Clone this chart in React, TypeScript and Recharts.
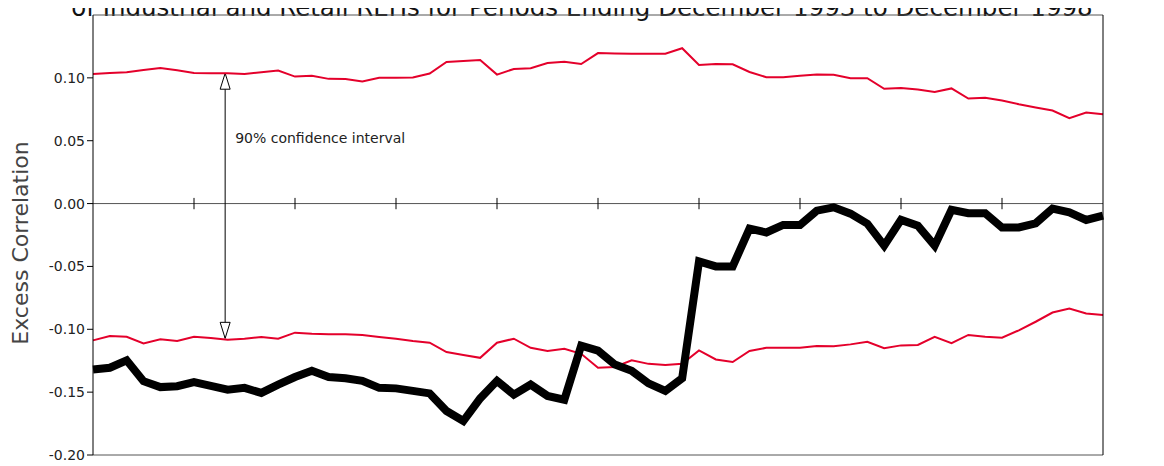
import React from 'react';
import { LineChart, Line, XAxis, YAxis, ReferenceLine } from 'recharts';

const upper = [0.1031,0.1039,0.1045,0.1063,0.1079,0.106,0.1039,0.1037,0.1037,0.1031,0.1045,0.1058,0.101,0.1016,0.0992,0.099,0.0971,0.1,0.1,0.1003,0.1034,0.1126,0.1134,0.1142,0.1026,0.1071,0.1076,0.1118,0.1129,0.111,0.1197,0.1194,0.1192,0.1192,0.1192,0.1236,0.1102,0.111,0.1108,0.1047,0.1005,0.1005,0.1016,0.1026,0.1024,0.0997,0.0997,0.0913,0.0919,0.0908,0.0887,0.0916,0.0835,0.0842,0.082,0.079,0.0765,0.074,0.068,0.0725,0.071];
const lower = [-0.1088,-0.1053,-0.1059,-0.1112,-0.108,-0.1093,-0.1059,-0.1069,-0.1083,-0.1075,-0.1061,-0.1075,-0.1027,-0.1035,-0.104,-0.104,-0.1045,-0.1061,-0.1075,-0.1093,-0.1107,-0.1181,-0.1205,-0.1227,-0.1107,-0.1075,-0.1147,-0.1173,-0.1155,-0.1195,-0.1306,-0.13,-0.1247,-0.1275,-0.1285,-0.1275,-0.1168,-0.124,-0.126,-0.1173,-0.1147,-0.1147,-0.1147,-0.1133,-0.1135,-0.112,-0.11,-0.115,-0.1128,-0.1125,-0.106,-0.111,-0.1045,-0.106,-0.1067,-0.1008,-0.094,-0.0867,-0.0835,-0.0875,-0.0886];
const excess = [-0.132,-0.1306,-0.1247,-0.1413,-0.146,-0.1453,-0.142,-0.145,-0.148,-0.1466,-0.1506,-0.144,-0.138,-0.133,-0.138,-0.139,-0.141,-0.1466,-0.147,-0.149,-0.151,-0.165,-0.173,-0.155,-0.141,-0.152,-0.144,-0.153,-0.156,-0.113,-0.117,-0.128,-0.133,-0.143,-0.149,-0.139,-0.046,-0.05,-0.05,-0.02,-0.023,-0.017,-0.017,-0.0056,-0.003,-0.008,-0.016,-0.0335,-0.013,-0.0176,-0.0335,-0.005,-0.0077,-0.0077,-0.019,-0.019,-0.0157,-0.004,-0.007,-0.013,-0.0096];
const yTicks = [0.15, 0.1, 0.05, 0, -0.05, -0.1, -0.15, -0.2];
const xTicks = [6, 12, 18, 24, 30, 36, 42, 48, 54];
const title = 'of Industrial and Retail REITs for Periods Ending December 1993 to December 1998';
const annotation = '90% confidence interval';
const yLabel = 'Excess Correlation';

const data = upper.map((u, i) => ({ i, upper: u, lower: lower[i], excess: excess[i] }));
const fmt = (v: number) => v.toFixed(2);
const font = 'DejaVu Sans, Verdana, sans-serif';

const ArrowShape = (p: any) => {
  const { x1, y1, x2, y2 } = p;
  const x = x1;
  const top = Math.min(y1, y2), bot = Math.max(y1, y2);
  return (
    <g stroke="#000" strokeWidth={1} fill="#fff">
      <line x1={x} y1={top} x2={x} y2={bot} />
      <polygon points={`${x},${top} ${x - 5},${top + 16} ${x + 5},${top + 16}`} />
      <polygon points={`${x},${bot} ${x - 5},${bot - 16} ${x + 5},${bot - 16}`} />
      <text x={x + 10} y={135} fill="#222" stroke="none" fontSize={14} fontFamily={font}>{annotation}</text>
    </g>
  );
};

export default function App() {
  return (
    <div style={{ position: 'relative', width: 1148, height: 458, fontFamily: font }}>
      <div style={{ position: 'absolute', top: -12, left: 0, width: 1148, textAlign: 'center', fontSize: 24.5, lineHeight: '24px', color: '#111', whiteSpace: 'nowrap' }}>{title}</div>
      <div style={{ position: 'absolute', left: 0, top: 0 }}>
        <LineChart width={1148} height={458} data={data} margin={{ top: 7, right: 0, bottom: 11, left: 0 }}>
          <XAxis dataKey="i" type="number" domain={[0, 60]} hide />
          <YAxis yAxisId="l" orientation="left" width={85} domain={[-0.2, 0.15]} ticks={yTicks} tickFormatter={fmt}
            stroke="#000" tick={{ fill: '#222', fontSize: 14, fontFamily: font }} tickSize={6} />
          <YAxis yAxisId="r" orientation="right" width={53} domain={[-0.2, 0.15]} ticks={yTicks} tickFormatter={fmt}
            stroke="#000" tick={{ fill: '#222', fontSize: 14, fontFamily: font }} tickSize={6} />
          <ReferenceLine yAxisId="l" y={0.15} stroke="#555" />
          <ReferenceLine yAxisId="l" y={-0.2} stroke="#555" />
          <ReferenceLine yAxisId="l" y={0} stroke="#555" />
          {xTicks.map(t => (
            <ReferenceLine key={t} yAxisId="l" segment={[{ x: t, y: 0.0045 }, { x: t, y: -0.0045 }]} stroke="#000" />
          ))}
          <ReferenceLine yAxisId="l" segment={[{ x: 7.85, y: 0.1037 }, { x: 7.85, y: -0.1072 }]} shape={ArrowShape} />
          <Line yAxisId="l" dataKey="upper" stroke="#e4002b" strokeWidth={2} dot={false} isAnimationActive={false} />
          <Line yAxisId="l" dataKey="lower" stroke="#e4002b" strokeWidth={2} dot={false} isAnimationActive={false} />
          <Line yAxisId="l" dataKey="excess" stroke="#000" strokeWidth={8} dot={false} isAnimationActive={false} strokeLinejoin="miter" />
        </LineChart>
      </div>
      <div style={{ position: 'absolute', left: 12, top: 235, width: 0, height: 0 }}>
        <div style={{ position: 'absolute', transform: 'translate(-50%, -50%) rotate(-90deg)', whiteSpace: 'nowrap', fontSize: 22, color: '#444' }}>{yLabel}</div>
      </div>
    </div>
  );
}
